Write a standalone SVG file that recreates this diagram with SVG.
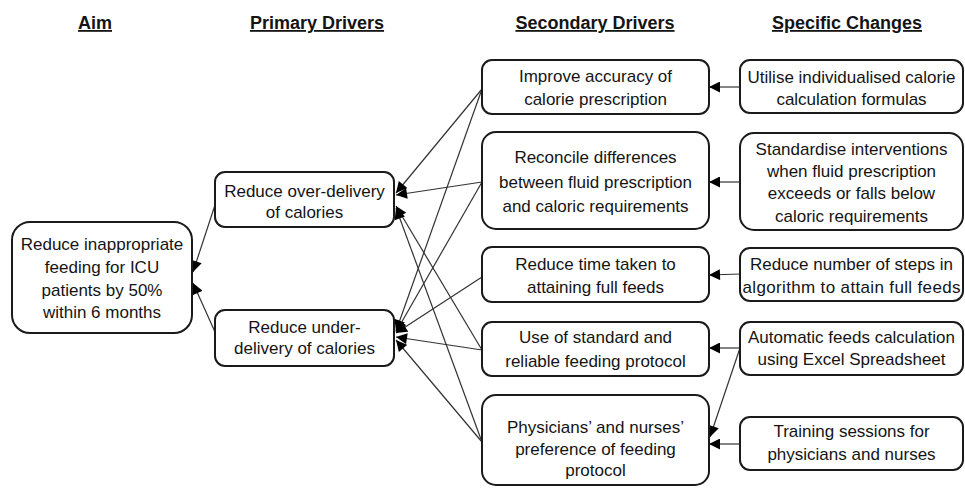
<svg xmlns="http://www.w3.org/2000/svg" width="965" height="488" viewBox="0 0 965 488">
<defs>
<style>
.box{fill:#fff;stroke:#1a1a1a;stroke-width:2}
.t{font-family:"Liberation Sans",Arial,sans-serif;font-size:17px;fill:#141414;text-anchor:middle}
.h{font-family:"Liberation Sans",Arial,sans-serif;font-size:18px;font-weight:bold;fill:#141414;text-anchor:middle;text-decoration:underline}
.c{fill:none;stroke:#333;stroke-width:1.2}
</style>
<marker id="arr" viewBox="0 0 10 10" refX="10" refY="5" markerWidth="12" markerHeight="11" markerUnits="userSpaceOnUse" orient="auto">
<path d="M0,0 L10,5 L0,10 z" fill="#000"/>
</marker>
</defs>
<rect width="965" height="488" fill="#fff"/>
<g id="headers">
<text class="h" x="95" y="29">Aim</text>
<text class="h" x="317" y="29">Primary Drivers</text>
<text class="h" x="595" y="29">Secondary Drivers</text>
<text class="h" x="847" y="29">Specific Changes</text>
</g>
<g id="connectors">
<path class="c" d="M215,205 L193,272" marker-end="url(#arr)"/>
<path class="c" d="M215,332 L193,283" marker-end="url(#arr)"/>
<path class="c" d="M482,89 L396,193" marker-end="url(#arr)"/>
<path class="c" d="M482,182 L396,195" marker-end="url(#arr)"/>
<path class="c" d="M482,350 L396,206" marker-end="url(#arr)"/>
<path class="c" d="M482,442 L396,208" marker-end="url(#arr)"/>
<path class="c" d="M482,89 L396,331" marker-end="url(#arr)"/>
<path class="c" d="M482,182 L396,332" marker-end="url(#arr)"/>
<path class="c" d="M482,277 L396,333" marker-end="url(#arr)"/>
<path class="c" d="M482,350 L396,337" marker-end="url(#arr)"/>
<path class="c" d="M482,442 L396,340" marker-end="url(#arr)"/>
<path class="c" d="M740,87 L709,87" marker-end="url(#arr)"/>
<path class="c" d="M740,182 L709,182" marker-end="url(#arr)"/>
<path class="c" d="M740,274 L709,275" marker-end="url(#arr)"/>
<path class="c" d="M740,348 L709,348" marker-end="url(#arr)"/>
<path class="c" d="M740,348 L710,437" marker-end="url(#arr)"/>
<path class="c" d="M740,444 L709,444" marker-end="url(#arr)"/>
</g>
<g id="aim">
<rect class="box" x="12" y="222" width="180" height="111" rx="18"/>
<text class="t" x="102" y="250">Reduce inappropriate</text>
<text class="t" x="102" y="273">feeding for ICU</text>
<text class="t" x="102" y="296">patients by 50%</text>
<text class="t" x="102" y="318">within 6 months</text>
</g>
<g id="p1">
<rect class="box" x="215" y="172" width="179" height="55" rx="10"/>
<text class="t" x="304.5" y="197">Reduce over-delivery</text>
<text class="t" x="304.5" y="218">of calories</text>
</g>
<g id="p2">
<rect class="box" x="215" y="310" width="179" height="56" rx="10"/>
<text class="t" x="304.5" y="333">Reduce under-</text>
<text class="t" x="304.5" y="354">delivery of calories</text>
</g>
<g id="s1">
<rect class="box" x="482" y="60" width="227" height="54" rx="10"/>
<text class="t" x="595.5" y="82">Improve accuracy of</text>
<text class="t" x="595.5" y="105">calorie prescription</text>
</g>
<g id="s2">
<rect class="box" x="482" y="132" width="227" height="97" rx="14"/>
<text class="t" x="595.5" y="163">Reconcile differences</text>
<text class="t" x="595.5" y="188">between fluid prescription</text>
<text class="t" x="595.5" y="212">and caloric requirements</text>
</g>
<g id="s3">
<rect class="box" x="482" y="247" width="227" height="55" rx="10"/>
<text class="t" x="595.5" y="270">Reduce time taken to</text>
<text class="t" x="595.5" y="293">attaining full feeds</text>
</g>
<g id="s4">
<rect class="box" x="482" y="322" width="227" height="54" rx="10"/>
<text class="t" x="595.5" y="343">Use of standard and</text>
<text class="t" x="595.5" y="367">reliable feeding protocol</text>
</g>
<g id="s5">
<rect class="box" x="482" y="395" width="227" height="90" rx="14"/>
<text class="t" x="595.5" y="433">Physicians’ and nurses’</text>
<text class="t" x="595.5" y="455">preference of feeding</text>
<text class="t" x="595.5" y="476">protocol</text>
</g>
<g id="c1">
<rect class="box" x="740" y="60" width="223" height="53" rx="10"/>
<text class="t" x="851.5" y="83">Utilise individualised calorie</text>
<text class="t" x="851.5" y="105">calculation formulas</text>
</g>
<g id="c2">
<rect class="box" x="740" y="133" width="223" height="97" rx="14"/>
<text class="t" x="851.5" y="155">Standardise interventions</text>
<text class="t" x="851.5" y="177">when fluid prescription</text>
<text class="t" x="851.5" y="199">exceeds or falls below</text>
<text class="t" x="851.5" y="222">caloric requirements</text>
</g>
<g id="c3">
<rect class="box" x="740" y="248" width="223" height="53" rx="10"/>
<text class="t" x="851.5" y="270">Reduce number of steps in</text>
<text class="t" x="851.5" y="293" textLength="218" lengthAdjust="spacing">algorithm to attain full feeds</text>
</g>
<g id="c4">
<rect class="box" x="740" y="322" width="223" height="53" rx="10"/>
<text class="t" x="851.5" y="343">Automatic feeds calculation</text>
<text class="t" x="851.5" y="365">using Excel Spreadsheet</text>
</g>
<g id="c5">
<rect class="box" x="740" y="417" width="223" height="53" rx="10"/>
<text class="t" x="851.5" y="437">Training sessions for</text>
<text class="t" x="851.5" y="460">physicians and nurses</text>
</g>
</svg>
